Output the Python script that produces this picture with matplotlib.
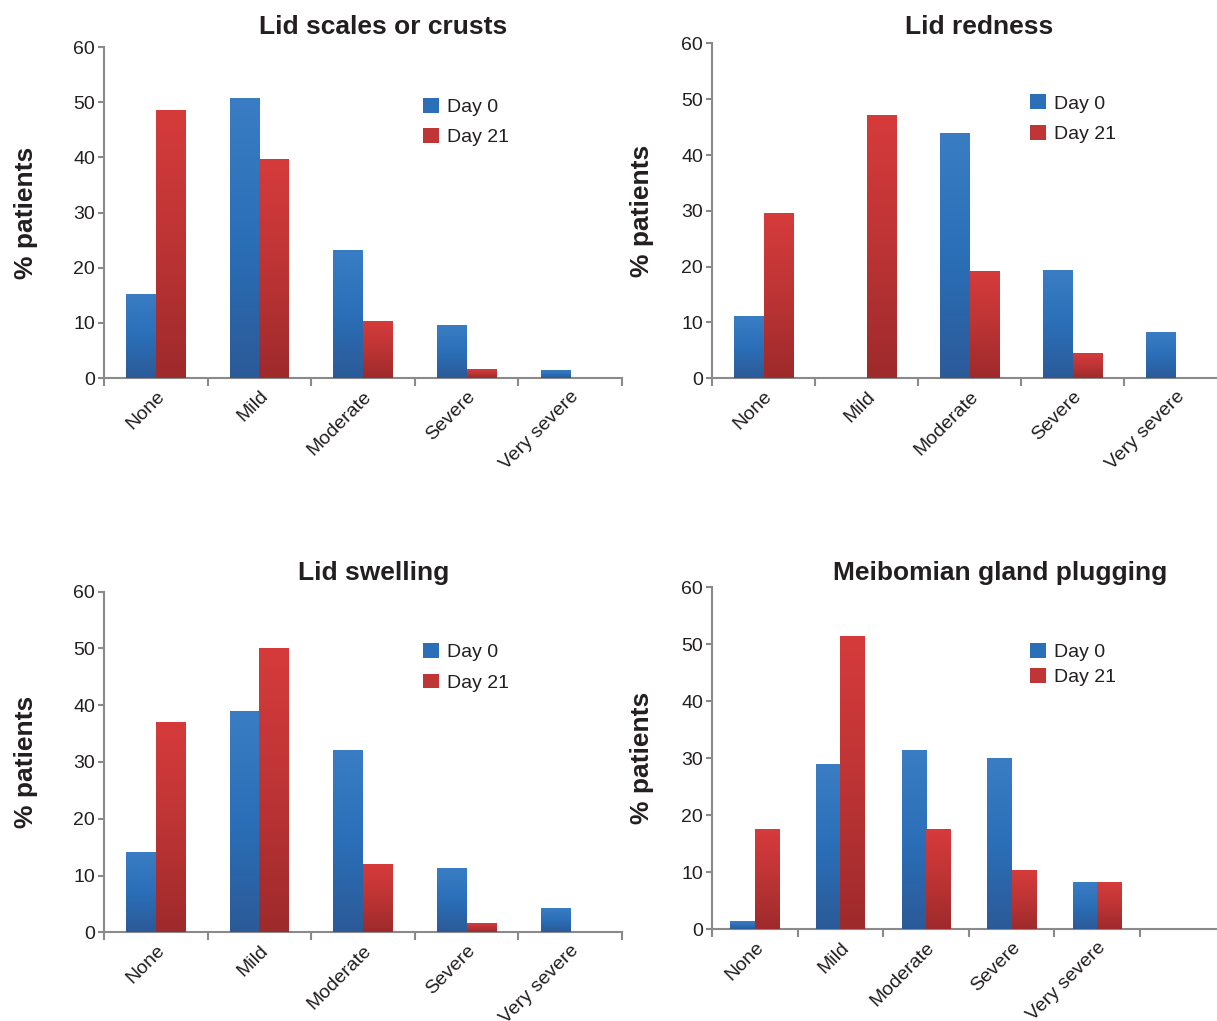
import numpy as np
import matplotlib
matplotlib.use("Agg")
import matplotlib.pyplot as plt
from matplotlib.colors import LinearSegmentedColormap

plt.rcParams['font.family'] = ['Liberation Sans', 'DejaVu Sans']

# дані (% пацієнтів)
categories = ['None', 'Mild', 'Moderate', 'Severe', 'Very severe']
series_names = ['Day 0', 'Day 21']

scales_day0 = [15.2, 50.7, 23.2, 9.6, 1.3]
scales_day21 = [48.4, 39.6, 10.3, 1.5, 0]
redness_day0 = [11.0, 0, 43.8, 19.2, 8.1]
redness_day21 = [29.4, 47.1, 19.1, 4.4, 0]
swelling_day0 = [14.0, 38.9, 31.9, 11.1, 4.2]
swelling_day21 = [36.8, 50.0, 11.8, 1.5, 0]
plugging_day0 = [1.3, 28.8, 31.3, 30.0, 8.1]
plugging_day21 = [17.5, 51.3, 17.5, 10.2, 8.1]

titles = ['Lid scales or crusts', 'Lid redness', 'Lid swelling', 'Meibomian gland plugging']

W, H = 1217, 1021
fig = plt.figure(figsize=(W / 100, H / 100), dpi=100)

# градієнти для стовпців (зверху світліше, знизу темніше)
blue_cmap = LinearSegmentedColormap.from_list('b', ['#2c5a98', '#2a6fb8', '#3a7dc4'])
red_cmap = LinearSegmentedColormap.from_list('r', ['#9e2a2b', '#bd3435', '#d63b3b'])
grad = np.linspace(0, 1, 256).reshape(-1, 1)

axis_grey = '#8a8a8a'
text_col = '#231f20'


def px_axes(left, right, top, bottom):
    return fig.add_axes([left / W, 1 - bottom / H, (right - left) / W, (bottom - top) / H])


def draw_panel(ax, day0, day21, title, n_slots, title_x, title_y, leg_x, leg_y, leg_space, ylab_off):
    x = np.arange(len(categories))
    w = 0.285
    bars0 = ax.bar(x - w / 2, day0, w, color='#2a6fb8', label=series_names[0], zorder=2)
    bars1 = ax.bar(x + w / 2, day21, w, color='#c03536', label=series_names[1], zorder=2)
    for bars, cmap in [(bars0, blue_cmap), (bars1, red_cmap)]:
        for b in bars:
            h = b.get_height()
            if h <= 0:
                continue
            ax.imshow(grad, cmap=cmap, origin='lower', aspect='auto', interpolation='bicubic',
                      extent=(b.get_x(), b.get_x() + b.get_width(), 0, h), zorder=3)

    ax.set_xlim(-0.5, -0.5 + n_slots)
    ax.set_ylim(0, 60)

    # осі
    for s in ['top', 'right']:
        ax.spines[s].set_visible(False)
    for s in ['left', 'bottom']:
        ax.spines[s].set_color(axis_grey)
        ax.spines[s].set_linewidth(1.5)

    ax.set_yticks(range(0, 61, 10))
    ax.tick_params(axis='y', direction='out', length=4.5, width=1.5, color=axis_grey,
                   labelsize=14, labelcolor=text_col, pad=2)

    # риски між категоріями, підписи по центру
    ax.set_xticks(np.arange(-0.5, -0.5 + n_slots + 0.01, 1.0))
    ax.set_xticklabels([])
    ax.tick_params(axis='x', which='major', direction='out', length=6, width=1.5, color=axis_grey)
    ax.set_xticks(x, minor=True)
    ax.set_xticklabels(categories, minor=True, rotation=45, ha='right', rotation_mode='anchor',
                       fontsize=14, color=text_col)
    ax.tick_params(axis='x', which='minor', length=0, pad=7)

    ax.set_ylabel('% patients', fontsize=19, fontweight='bold', color=text_col)
    ax.yaxis.set_label_coords(-ylab_off / (ax.get_position().width * W), 0.5)

    fig.text(title_x / W, 1 - title_y / H, title, fontsize=19, fontweight='bold',
             color=text_col, ha='center', va='center')

    ax.legend(loc='upper left', bbox_to_anchor=(leg_x, leg_y), frameon=False, fontsize=14,
              handlelength=0.8, handleheight=0.8, handletextpad=0.45, labelspacing=leg_space,
              borderpad=0, borderaxespad=0, labelcolor=text_col)


ax1 = px_axes(104, 622, 47, 378)
draw_panel(ax1, scales_day0, scales_day21, titles[0], 5, 383, 27,
           (423 - 104) / 518, 0.847, 0.62, 66)

ax2 = px_axes(712, 1217, 43.5, 378.3)
draw_panel(ax2, redness_day0, redness_day21, titles[1], 4.9, 979, 27,
           (1030 - 712) / 505, 0.848, 0.62, 58)

ax3 = px_axes(104, 622, 591.5, 932.3)
draw_panel(ax3, swelling_day0, swelling_day21, titles[2], 5, 374, 573,
           (423 - 104) / 518, 0.848, 0.62, 66)

ax4 = px_axes(712, 1217, 587.3, 929.3)
draw_panel(ax4, plugging_day0, plugging_day21, titles[3], 5.9, 1000, 573,
           (1030 - 712) / 505, 0.837, 0.34, 58)

fig.savefig('out.png', dpi=100, facecolor='white')
